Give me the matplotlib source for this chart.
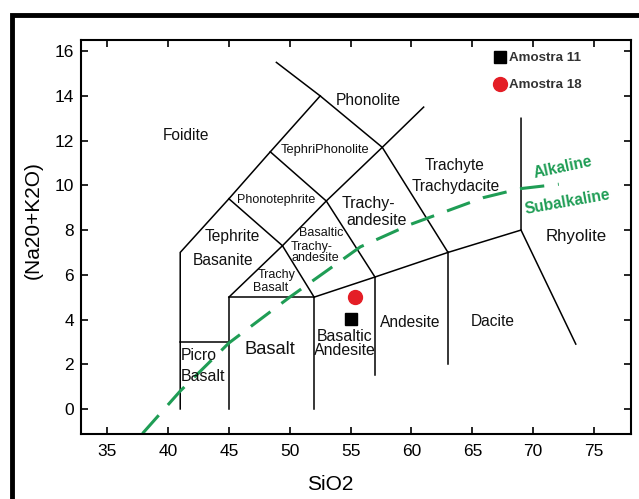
import matplotlib.pyplot as plt
from matplotlib.patches import Rectangle

plt.rcParams['font.family'] = ['Liberation Sans', 'DejaVu Sans']

# TAS field boundaries (SiO2, Na2O+K2O)
boundaries = [
    [(41, 0), (41, 7), (45, 9.4), (48.4, 11.5), (52.5, 14), (48.9, 15.5)],
    [(41, 3), (45, 3)],
    [(45, 0), (45, 5), (52, 5), (52, 0)],
    [(45, 5), (49.4, 7.3), (52, 5)],
    [(45, 9.4), (49.4, 7.3)],
    [(49.4, 7.3), (53, 9.3), (57.6, 11.7), (61, 13.5)],
    [(48.4, 11.5), (53, 9.3), (57, 5.9)],
    [(52.5, 14), (57.6, 11.7), (63, 7)],
    [(52, 5), (57, 5.9), (63, 7), (69, 8), (69, 13)],
    [(57, 5.9), (57, 1.5)],
    [(63, 7), (63, 2)],
    [(69, 8), (73.5, 2.9)],
]

# alkaline / subalkaline divide
div_x = [37.9, 41, 45, 50, 55.8, 59.9, 65.9, 68.9, 72.1]
div_y = [-1.1, 0.8, 2.95, 5.0, 7.25, 8.25, 9.45, 9.85, 10.05]

# samples
samples = ["Amostra 11", "Amostra 18"]
sio2 = [55.0, 55.4]
alk = [4.03, 5.0]

fields = [
    ("Foidite", 41.5, 12.23, 11.2),
    ("Phonolite", 56.45, 13.8, 11.2),
    ("TephriPhonolite", 52.9, 11.6, 9.3),
    ("Phonotephrite", 48.9, 9.35, 9),
    ("Trachyte", 63.5, 10.87, 11.2),
    ("Trachydacite", 63.6, 9.95, 11.2),
    ("Trachy-", 56.5, 9.2, 11.5),
    ("andesite", 57.1, 8.45, 11.5),
    ("Basaltic", 52.6, 7.87, 9),
    ("Trachy-", 51.8, 7.26, 9),
    ("andesite", 52.1, 6.76, 9),
    ("Tephrite", 45.3, 7.7, 11.2),
    ("Basanite", 44.5, 6.62, 11.2),
    ("Trachy", 48.95, 6.0, 9),
    ("Basalt", 48.4, 5.4, 9),
    ("Picro", 42.5, 2.37, 11.3),
    ("Basalt", 42.85, 1.45, 11.5),
    ("Basalt", 48.4, 2.67, 13.2),
    ("Basaltic", 54.5, 3.22, 11.4),
    ("Andesite", 54.5, 2.61, 11.4),
    ("Andesite", 59.9, 3.86, 11.2),
    ("Dacite", 66.7, 3.9, 11.2),
    ("Rhyolite", 73.5, 7.71, 12.2),
]

fig = plt.figure(figsize=(6.39, 4.99), dpi=100)
ax = fig.add_axes([0.1268, 0.1303, 0.86, 0.7895])

for seg in boundaries:
    xs = [p[0] for p in seg]
    ys = [p[1] for p in seg]
    ax.plot(xs, ys, color='black', lw=1.1, solid_joinstyle='miter')

ax.plot(div_x, div_y, color='#1f9d55', lw=2.2, dashes=(8, 4.5))

for name, x, y, fs in fields:
    ax.text(x, y, name, fontsize=fs, ha='center', va='center', color='#111111')

ax.text(72.47, 10.8, "Alkaline", fontsize=11.2, color='#1f9d55', fontweight='bold',
        rotation=12, ha='center', va='center')
ax.text(72.84, 9.25, "Subalkaline", fontsize=11.2, color='#1f9d55', fontweight='bold',
        rotation=10, ha='center', va='center')

ax.plot(sio2[0], alk[0], 's', color='black', ms=9, label=samples[0], ls='none')
ax.plot(sio2[1], alk[1], 'o', color='#e41e26', ms=10, label=samples[1], ls='none')

leg = ax.legend(loc='upper left', bbox_to_anchor=(0.733, 1.0), frameon=False,
                handlelength=0.6, handletextpad=0.4, labelspacing=1.1,
                prop={'size': 9.6, 'weight': 'bold'})
for t in leg.get_texts():
    t.set_color('#333333')

ax.set_xlim(32.85, 78.0)
ax.set_ylim(-1.12, 16.5)
ax.set_xticks([35, 40, 45, 50, 55, 60, 65, 70, 75])
ax.set_yticks([0, 2, 4, 6, 8, 10, 12, 14, 16])
ax.tick_params(direction='in', top=True, right=True, length=5, width=1.2,
               labelsize=12.5)
ax.tick_params(axis='y', pad=5)
ax.tick_params(axis='x', pad=7)
for s in ax.spines.values():
    s.set_linewidth(1.5)
ax.set_xlabel("SiO2", fontsize=15)
ax.set_ylabel("(Na20+K2O)", fontsize=15)
ax.xaxis.set_label_coords(0.453, -0.105)
ax.yaxis.set_label_coords(-0.069, 0.543)

fig.patches.append(Rectangle((12 / 639, -0.1), 1.2, 1 - 14.5 / 499 + 0.1,
                             transform=fig.transFigure, fill=False,
                             edgecolor='black', lw=3.5))

fig.savefig("out.png", dpi=100)
